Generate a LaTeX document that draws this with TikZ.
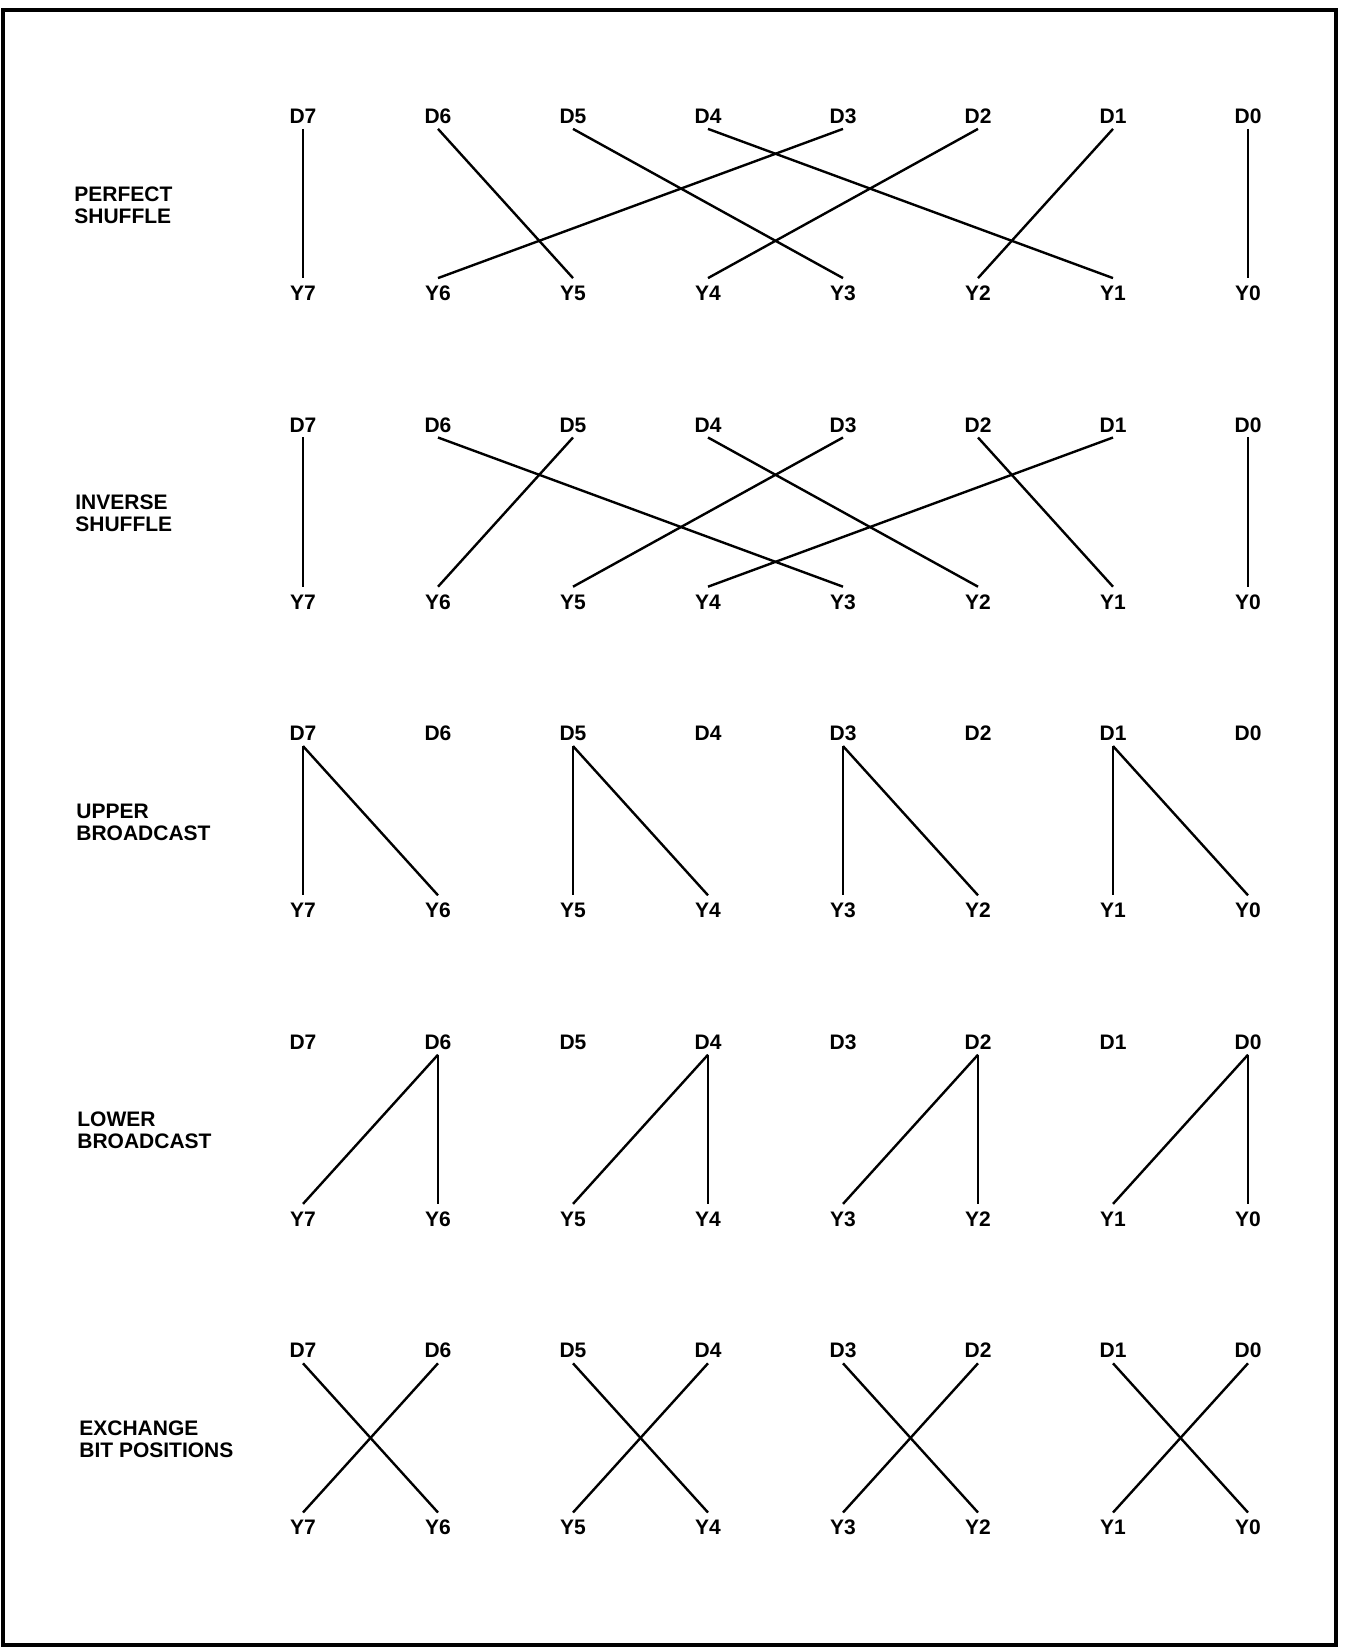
\documentclass[tikz,border=0pt]{standalone}
\usepackage{fontspec}
\setmainfont{Liberation Sans}
\begin{document}
\begin{tikzpicture}[x=0.5pt,y=-0.5pt,
  lab/.style={font=\bfseries\fontsize{10.5}{11}\selectfont, inner sep=0pt},
  dlab/.style={lab, text height=7.5pt, text depth=0pt, inner xsep=2pt, inner ysep=2.5pt},
  ylab/.style={lab, text height=7.5pt, text depth=0pt, inner xsep=2pt, inner ysep=3.5pt},
  rowlab/.style={lab, align=left, anchor=west},
  wire/.style={line width=1.2pt},
  frame/.style={line width=2pt}]
\useasboundingbox (0,0) rectangle (1344,1652);
\draw[frame] (3,10) rectangle (1336,1645);
\foreach \r in {1,...,5}{
  \foreach \i in {0,...,7}{
    \pgfmathsetmacro{\xx}{303+135*(7-\i)}
    \pgfmathsetmacro{\yd}{116+308.6*(\r-1)}
    \pgfmathsetmacro{\yy}{293+308.6*(\r-1)}
    \node[dlab] (r\r d\i) at (\xx,\yd) {D\i};
    \node[ylab] (r\r y\i) at (\xx,\yy) {Y\i};
  }
}
\node[rowlab] (l1) at (74,205) {PERFECT\\SHUFFLE};
\node[rowlab] (l2) at (75,513) {INVERSE\\SHUFFLE};
\node[rowlab] (l3) at (76,822) {UPPER\\BROADCAST};
\node[rowlab] (l4) at (77,1130) {LOWER\\BROADCAST};
\node[rowlab] (l5) at (79,1439) {EXCHANGE\\BIT POSITIONS};
\foreach \a/\b in {7/7,6/5,5/3,4/1,3/6,2/4,1/2,0/0}
  \draw[wire] (r1d\a.south) -- (r1y\b.north);
\foreach \a/\b in {7/7,6/3,5/6,4/2,3/5,2/1,1/4,0/0}
  \draw[wire] (r2d\a.south) -- (r2y\b.north);
\foreach \a/\b in {7/7,7/6,5/5,5/4,3/3,3/2,1/1,1/0}
  \draw[wire] (r3d\a.south) -- (r3y\b.north);
\foreach \a/\b in {6/7,6/6,4/5,4/4,2/3,2/2,0/1,0/0}
  \draw[wire] (r4d\a.south) -- (r4y\b.north);
\foreach \a/\b in {7/6,6/7,5/4,4/5,3/2,2/3,1/0,0/1}
  \draw[wire] (r5d\a.south) -- (r5y\b.north);
\end{tikzpicture}
\end{document}
